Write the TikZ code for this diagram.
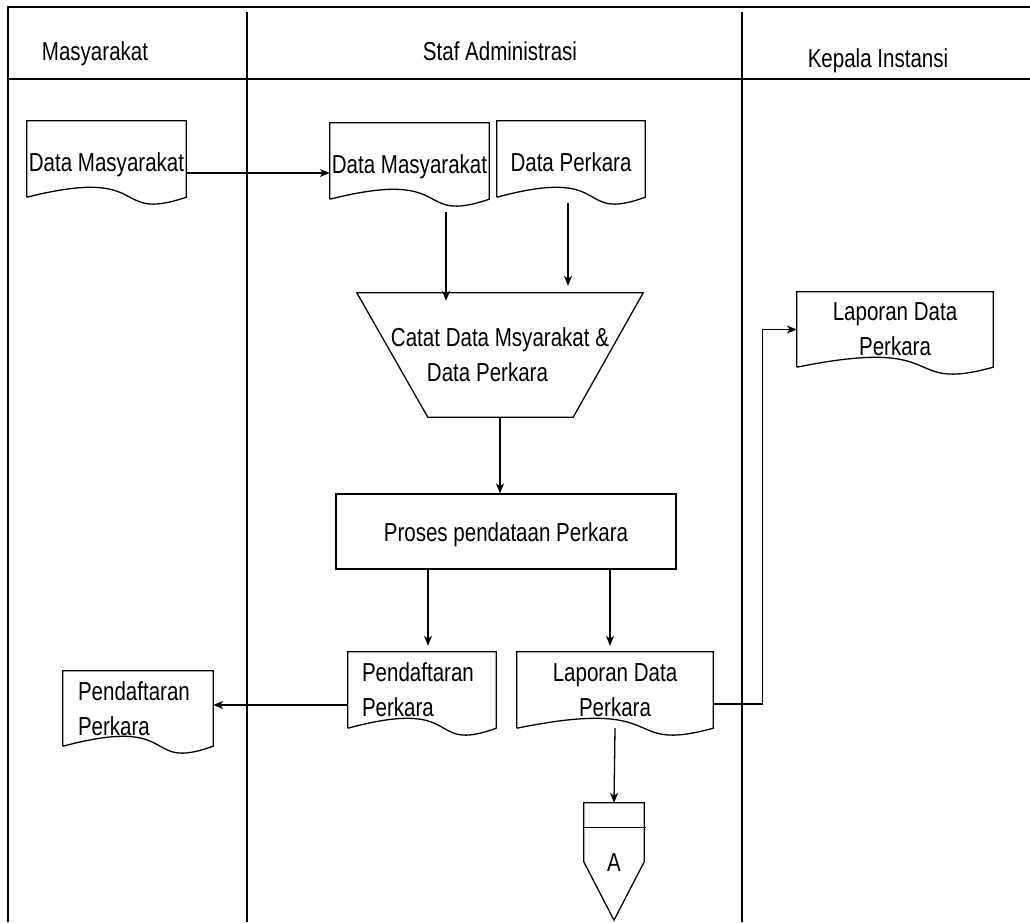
\documentclass[tikz,border=0pt]{standalone}
\usepackage{fontspec}
\setmainfont{Liberation Sans}[FakeStretch=0.79]
\usetikzlibrary{arrows.meta,calc}
\newcommand\docout[1]{\draw[shp] (#1.south west) -- (#1.north west) -- (#1.north east) -- (#1.south east)
  .. controls ($(#1.south west)!0.52!(#1.south east)+(0,26)$) and ($(#1.south west)!0.8!(#1.south east)+(0,-32)$) .. (#1.south west);}
\tikzset{
  shp/.style={line width=1.3pt},
  arr/.style={line width=1.3pt,-{Stealth[length=10pt,width=8pt,inset=3pt]}},
  frameline/.style={line width=1.8pt},
  laneline/.style={line width=1.5pt},
  hdr/.style={inner sep=0pt,text height=19pt,text depth=0pt},
  doc/.style={draw=none,inner sep=0pt,align=center},
  oneline/.style={text height=24pt,text depth=0pt},
}
\begin{document}
\begin{tikzpicture}[x=1pt,y=-1pt,every node/.style={font=\fontsize{26}{35}\selectfont}]
\useasboundingbox (0,0) rectangle (1030,922);
% pool frame
\draw[frameline] (8,922) -- (8,7) -- (1030,7);
\draw[frameline] (8,79) -- (1030,79);
\draw[laneline] (247,12) -- (247,922);
\draw[laneline] (742,12) -- (742,922);
% headers
\node[hdr] (h1) at (95,51) {Masyarakat};
\node[hdr] (h2) at (500,51) {Staf Administrasi};
\node[hdr] (h3) at (878,57.5) {Kepala Instansi};
% documents
\node[doc,oneline,minimum width=159pt,minimum height=76pt] (mdata) at (106.5,159) {Data Masyarakat};
\node[doc,oneline,minimum width=159pt,minimum height=76pt] (sdata) at (409.5,161) {Data Masyarakat};
\node[doc,oneline,minimum width=148pt,minimum height=76pt] (sperk) at (571,159) {Data Perkara};
\node[doc,minimum width=148pt,minimum height=76pt,align=left,text width=120pt] (pend) at (422,690) {Pendaftaran\\Perkara};
\node[doc,minimum width=196pt,minimum height=76pt] (lap) at (615,690) {Laporan Data\\Perkara};
\node[doc,minimum width=150pt,minimum height=75pt,align=left,text width=120pt] (pendL) at (138,708.5) {Pendaftaran\\Perkara};
\node[doc,minimum width=196pt,minimum height=75pt] (lapK) at (895,329.5) {Laporan Data\\Perkara};
\foreach \d in {mdata,sdata,sperk,pend,lap,pendL,lapK}{\docout{\d}}
% manual operation
\node[doc,minimum width=286pt,minimum height=124pt] (catat) at (500,355) {Catat Data Msyarakat \&\\Data Perkara\rule{25pt}{0pt}};
\draw[shp] (catat.north west) -- (catat.north east) -- ($(catat.south east)+(-70,0)$) -- ($(catat.south west)+(71,0)$) -- cycle;
% process
\node[draw,shp,inner sep=0pt,minimum width=340pt,minimum height=75pt,text height=19pt,text depth=0pt] (proses) at (506,531.5) {Proses pendataan Perkara};
% off-page connector
\node[inner sep=0pt,minimum width=60pt,minimum height=117pt,text height=19pt,text depth=0pt] (conA) at (614,861.5) {A};
\draw[shp] (conA.north west) -- (conA.north east) -- ($(conA.north east)+(0,59)$) -- (conA.south) -- ($(conA.north west)+(0,59)$) -- cycle;
\draw[shp] ($(conA.north west)+(0,25)$) -- ($(conA.north east)+(2,25)$);
% connectors
\draw[arr] ([shift={(0,14)}]mdata.east) -- ([shift={(0,14)}]mdata.east -| sdata.west);
\draw[arr,shorten >=5pt] ([shift={(36.5,13)}]sdata.south) -- ([shift={(36.5,13)}]sdata.south |- catat.north);
\draw[arr,shorten >=13pt] ([shift={(-3,6)}]sperk.south) -- ([shift={(-3,6)}]sperk.south |- catat.north);
\draw[arr] (catat.south) -- (catat.south |- proses.north);
\draw[arr,shorten >=6pt] ([shift={(6,0)}]pend.north |- proses.south) -- ([shift={(6,0)}]pend.north);
\draw[arr,shorten >=6pt] ([shift={(-5,0)}]lap.north |- proses.south) -- ([shift={(-5,0)}]lap.north);
\draw[arr] ([shift={(0,15)}]pend.west) -- ([shift={(0,15)}]pend.west -| pendL.east);
\draw[arr] ([shift={(0,14)}]lap.east) -| ([shift={(-34,0)}]lapK.west) -- (lapK.west);
\draw[arr] (lap.south) -- (conA.north);
\end{tikzpicture}
\end{document}
